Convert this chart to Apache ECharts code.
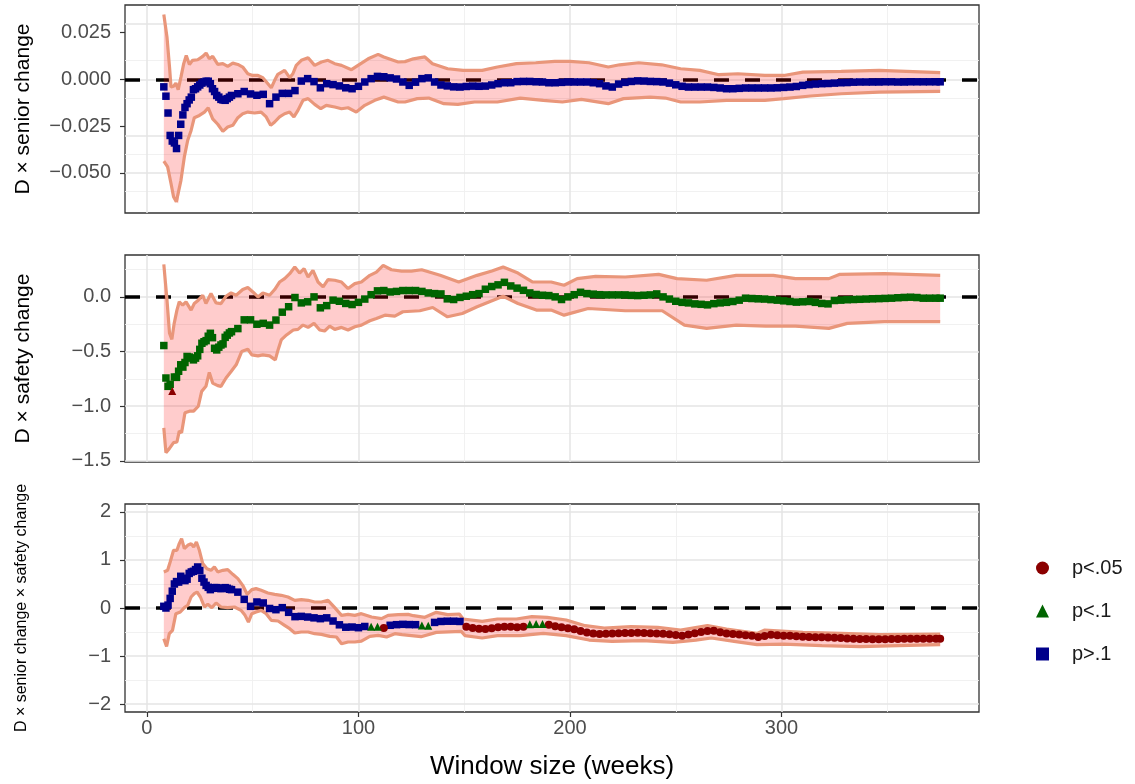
<!DOCTYPE html>
<html>
<head>
<meta charset="utf-8">
<script src="https://cdn.jsdelivr.net/npm/echarts@6/dist/echarts.min.js"></script>
<style>
html, body { margin: 0; padding: 0; background: #fff; }
#main { width: 1135px; height: 784px; }
</style>
</head>
<body>
<div id="main"></div>
<script>
// window sizes (weeks) at which the estimates are plotted
var weeks = [8,9,10,11,12,13,14,15,16,17,18,19,20,21,22,23,24,25,26,27,28,29,30,31,32,33,34,35,36,37,38,39,40,
	43,46,49,52,55,58,61,64,67,70,73,76,79,82,85,88,91,94,97,100,
	103,106,109,112,115,118,121,124,127,130,133,136,139,142,145,148,151,154,157,160,
	163,166,169,172,175,178,181,184,187,190,193,196,199,202,205,208,211,214,217,220,
	223,226,229,232,235,238,241,244,247,250,253,256,259,262,265,268,271,274,277,280,
	283,286,289,292,295,298,301,304,307,310,313,316,319,322,325,328,331,334,337,340,
	343,346,349,352,355,358,361,364,367,370,373,375];

// D x senior change
var seniorEst = [-0.004,-0.009,-0.018,-0.030,-0.033,-0.034,-0.037,-0.030,-0.024,-0.019,-0.015,-0.013,-0.011,-0.0095,-0.0055,-0.005,-0.004,-0.003,-0.002,-0.0014,-0.001,-0.001,-0.0023,-0.005,-0.0065,-0.0086,-0.0095,-0.0107,-0.011,-0.0112,-0.0103,-0.0095,-0.0086,
	-0.0077,-0.0065,-0.0078,-0.0085,-0.008,-0.013,-0.0095,-0.0075,-0.0075,-0.006,-0.0009,0.0004,-0.0012,-0.0045,-0.0023,-0.0028,-0.0035,-0.0045,-0.005,-0.0037,
	-0.0014,0.0004,0.0016,0.0014,0.0008,0.0002,-0.0014,-0.0032,-0.0015,0.0004,0.0008,-0.0014,-0.003,-0.0035,-0.004,-0.0041,-0.0038,-0.0036,-0.0037,-0.0036,
	-0.003,-0.0023,-0.0018,-0.0018,-0.0012,-0.0011,-0.0011,-0.0013,-0.0014,-0.0018,-0.0018,-0.0016,-0.0014,-0.0014,-0.0014,-0.0014,-0.0018,-0.0023,-0.0035,-0.0041,
	-0.0025,-0.0016,-0.0011,-0.0008,-0.0009,-0.0011,-0.0012,-0.0014,-0.002,-0.0029,-0.0037,-0.0041,-0.0041,-0.0041,-0.0041,-0.0043,-0.0046,-0.005,-0.005,-0.0048,
	-0.0046,-0.0046,-0.0046,-0.0046,-0.0046,-0.0045,-0.0043,-0.0041,-0.0038,-0.0032,-0.0028,-0.0025,-0.0023,-0.0022,-0.002,-0.0018,-0.0017,-0.0015,-0.0014,-0.0014,
	-0.0014,-0.0014,-0.0013,-0.0013,-0.0014,-0.0014,-0.0013,-0.0013,-0.0013,-0.0013,-0.0013,-0.0013];
var seniorHi = [[8,0.0347],[9.5,0.0226],[10.7,0.0066],[11.4,-0.0041],[12.6,-0.0037],[13.7,-0.002],[14.8,-0.0055],[16.1,0.0012],[17.4,0.0084],[18.6,0.0128],[20.1,0.008],[21.6,0.0102],[24,0.0105],[26.4,0.0123],[28,0.0141],[29.5,0.011],[31.1,0.0123],[33.5,0.008],[35.9,0.0084],[38.2,0.007],[40.6,0.0087],[43,0.008],[45.3,0.0066],[47.7,0.003],[50,0.0021],[52.5,0.0021],[54.8,0.0009],[57.2,-0.0023],[58.8,-0.0045],[60.4,-0.0005],[61.9,0.0027],[65.1,0.0048],[67.5,0.0009],[69,0.003],[70.6,0.0075],[73,0.0102],[76.2,0.0116],[79.3,0.0075],[82.5,0.0093],[85.6,0.0102],[88.8,0.0084],[92,0.0075],[96.7,0.0052],[99.8,0.0075],[104.6,0.011],[109.3,0.0134],[112,0.012],[118.8,0.0093],[122,0.0095],[126,0.011],[131.4,0.012],[135,0.0084],[142.2,0.0057],[149.5,0.0048],[158.5,0.0048],[165.7,0.0066],[174.7,0.0084],[183.8,0.0089],[192.8,0.0096],[200,0.0096],[209,0.0089],[218.1,0.0066],[223.5,0.0078],[232.5,0.0089],[243.3,0.0078],[252.3,0.0057],[261.4,0.0048],[270.4,0.0025],[279.4,0.003],[292.1,0.0021],[301.1,0.0021],[310.1,0.0039],[328.2,0.0043],[346.2,0.0048],[375,0.0036]];
var seniorLo = [[8,-0.0437],[9.8,-0.0468],[11.4,-0.0557],[12.6,-0.0628],[13.9,-0.0655],[14.8,-0.0664],[16.1,-0.054],[17.7,-0.0415],[19.3,-0.0326],[20.9,-0.0273],[22.4,-0.0205],[24.8,-0.0193],[27.2,-0.0175],[29,-0.0152],[31.1,-0.0211],[33.5,-0.024],[35.9,-0.0278],[38.2,-0.0255],[40.6,-0.0246],[43,-0.0205],[45.3,-0.0184],[47.7,-0.0175],[50.9,-0.018],[54,-0.0175],[56.4,-0.0201],[58.5,-0.0246],[60.4,-0.0228],[62.7,-0.0201],[65.1,-0.0184],[67.5,-0.0175],[69.5,-0.0201],[71.4,-0.0166],[73.8,-0.0112],[76.2,-0.0103],[79.3,-0.0134],[82.2,-0.0157],[84.8,-0.0139],[88.8,-0.0148],[92,-0.0157],[95.1,-0.0152],[99,-0.0175],[103,-0.0139],[107.7,-0.0112],[112,-0.0095],[118.8,-0.0121],[122,-0.0121],[127.8,-0.0103],[133.2,-0.01],[140.4,-0.013],[147,-0.0134],[154.9,-0.0121],[165.7,-0.0121],[176.5,-0.01],[187.4,-0.0112],[196.4,-0.0121],[205.4,-0.0107],[218.1,-0.013],[225.3,-0.0103],[237.9,-0.0095],[245.1,-0.01],[252.3,-0.0121],[261.4,-0.0121],[274,-0.0112],[292.1,-0.0112],[301.1,-0.0103],[313.7,-0.0089],[328.2,-0.0077],[346.2,-0.0068],[375,-0.0064]];

// D x safety change
var safetyEst = [-0.445,-0.742,-0.818,-0.80,-0.86,-0.733,-0.736,-0.68,-0.621,-0.642,-0.60,-0.545,-0.55,-0.56,-0.576,-0.56,-0.539,-0.48,-0.424,-0.41,-0.40,-0.36,-0.333,-0.373,-0.47,-0.485,-0.46,-0.44,-0.43,-0.37,-0.35,-0.33,-0.318,
	-0.29,-0.21,-0.21,-0.25,-0.242,-0.258,-0.212,-0.14,-0.09,-0.006,-0.055,-0.045,0.0,-0.10,-0.08,-0.03,-0.04,-0.06,-0.07,-0.05,
	-0.02,0.02,0.055,0.058,0.045,0.05,0.058,0.058,0.058,0.05,0.036,0.03,0.027,-0.018,-0.024,-0.005,0.006,0.02,0.03,0.07,
	0.095,0.11,0.133,0.10,0.08,0.06,0.036,0.022,0.015,0.012,0.0,-0.024,0.0,0.02,0.042,0.03,0.025,0.02,0.018,0.018,
	0.018,0.018,0.014,0.012,0.015,0.018,0.027,0.0,-0.02,-0.04,-0.05,-0.055,-0.064,-0.068,-0.073,-0.062,-0.055,-0.05,-0.042,-0.03,
	-0.012,-0.015,-0.018,-0.02,-0.025,-0.03,-0.036,-0.042,-0.048,-0.045,-0.042,-0.05,-0.06,-0.064,-0.033,-0.03,-0.026,-0.024,-0.022,-0.02,
	-0.018,-0.016,-0.014,-0.012,-0.008,-0.005,-0.003,-0.006,-0.012,-0.012,-0.012,-0.012];
var safetyFlagWeeks = [12];
var safetyHi = [[8,0.297],[9.5,-0.03],[10.7,-0.333],[11.8,-0.388],[12.9,-0.242],[14.2,-0.121],[15.3,-0.045],[16.9,-0.076],[18.5,-0.045],[20.9,-0.121],[22.4,-0.061],[24.3,-0.03],[26.4,0.015],[27.9,-0.061],[30.3,0.03],[32.7,-0.055],[35,-0.061],[37.4,0.006],[39.8,0.036],[42.2,0.015],[45.3,0.067],[47.7,0.085],[50.1,0.045],[52.5,0],[54.8,0.036],[58,0.015],[60.4,0.067],[62.7,0.136],[65.1,0.167],[67.5,0.212],[69.9,0.273],[72.2,0.218],[74.3,0.258],[76.2,0.182],[78.5,0.242],[80.9,0.136],[83.3,0.091],[85.6,0.158],[88.8,0.152],[92,0.136],[95.1,0.076],[98.3,0.121],[101.4,0.136],[105.4,0.197],[108.5,0.227],[111.7,0.288],[115.6,0.248],[120.4,0.236],[125,0.236],[129.9,0.248],[138.6,0.197],[147.4,0.136],[156.1,0.197],[163.1,0.236],[168.4,0.273],[175.4,0.218],[182.4,0.136],[191.1,0.136],[197.2,0.106],[203.4,0.167],[212.1,0.188],[226.1,0.182],[241.9,0.206],[250.6,0.167],[264.6,0.152],[278.6,0.197],[296.1,0.197],[306.6,0.167],[322.4,0.167],[327.6,0.206],[348.6,0.212],[375,0.197]];
var safetyLo = [[8,-1.197],[9,-1.424],[10.6,-1.388],[12.6,-1.333],[14.2,-1.327],[15.3,-1.227],[16.4,-1.242],[18,-1.06],[20.1,-1.045],[22.1,-1.045],[24.3,-1.0],[25.9,-0.864],[27.9,-0.818],[29.5,-0.691],[31.1,-0.788],[33.5,-0.812],[35,-0.818],[37.4,-0.742],[39.8,-0.682],[42.2,-0.621],[44.8,-0.5],[47.7,-0.479],[49.6,-0.53],[52.5,-0.539],[54.8,-0.53],[58,-0.539],[60.7,-0.576],[62,-0.485],[63.5,-0.394],[66,-0.348],[69.2,-0.303],[71.4,-0.297],[73.8,-0.258],[76.2,-0.279],[79,-0.242],[81.7,-0.303],[84,-0.312],[86.4,-0.267],[88.8,-0.297],[92,-0.279],[95.1,-0.303],[98.3,-0.273],[101.4,-0.258],[105.4,-0.218],[108.5,-0.197],[112.5,-0.167],[117.2,-0.176],[121,-0.136],[129,-0.127],[135.1,-0.097],[142.1,-0.182],[149.1,-0.152],[156.1,-0.091],[168.4,0.006],[175.4,-0.061],[184.1,-0.121],[191.1,-0.121],[197.2,-0.167],[208.6,-0.106],[226.1,-0.127],[243.6,-0.127],[254.1,-0.258],[264.6,-0.288],[278.6,-0.258],[292.6,-0.267],[306.6,-0.267],[322.4,-0.288],[331.1,-0.242],[348.6,-0.227],[375,-0.227]];

// D x senior change x safety change
var interEst = [0.035,0.0,0.06,0.2,0.35,0.5,0.55,0.54,0.66,0.62,0.57,0.60,0.72,0.75,0.764,0.80,0.854,0.78,0.62,0.54,0.47,0.43,0.382,0.41,0.424,0.424,0.41,0.403,0.41,0.424,0.41,0.39,0.382,
	0.33,0.18,0.035,0.125,0.105,-0.01,-0.035,0.007,-0.09,-0.18,-0.174,-0.188,-0.205,-0.222,-0.205,-0.271,-0.35,-0.40,-0.396,-0.41,
	-0.385,-0.39,-0.39,-0.417,-0.36,-0.347,-0.34,-0.345,-0.347,-0.365,-0.368,-0.30,-0.28,-0.275,-0.275,-0.28,-0.39,-0.417,-0.43,-0.438,
	-0.42,-0.403,-0.39,-0.389,-0.40,-0.39,-0.34,-0.335,-0.335,-0.347,-0.38,-0.40,-0.42,-0.44,-0.48,-0.51,-0.53,-0.542,-0.535,-0.532,
	-0.528,-0.52,-0.52,-0.515,-0.522,-0.528,-0.53,-0.538,-0.545,-0.56,-0.576,-0.55,-0.528,-0.5,-0.48,-0.472,-0.507,-0.53,-0.542,-0.55,
	-0.565,-0.58,-0.605,-0.585,-0.556,-0.565,-0.576,-0.58,-0.59,-0.597,-0.604,-0.608,-0.611,-0.615,-0.618,-0.625,-0.635,-0.64,-0.646,-0.646,
	-0.648,-0.648,-0.65,-0.646,-0.645,-0.642,-0.642,-0.642,-0.64,-0.64,-0.64,-0.638];
// [from week, to week, significance]
var interSigRuns = [[8,103,'p>.1'],[106,109,'p<.1'],[112,112,'p<.05'],[115,127,'p>.1'],[130,133,'p<.1'],
	[136,148,'p>.1'],[151,178,'p<.05'],[181,187,'p<.1'],[190,375,'p<.05']];
var interHi = [[8,0.75],[9.8,0.785],[11,0.958],[12.6,1.201],[14.2,1.201],[15.3,1.34],[16.4,1.444],[17.7,1.236],[19.3,1.306],[20.9,1.34],[22.1,1.271],[23.4,1.375],[24.8,1.201],[26.4,0.924],[28.4,0.819],[30.3,0.785],[31.9,0.854],[33.5,0.75],[35.9,0.785],[38.2,0.799],[40.6,0.701],[43,0.611],[45.3,0.472],[47.4,0.285],[49.6,0.382],[51.6,0.403],[54,0.368],[57.2,0.313],[60.4,0.285],[63.5,0.264],[66.7,0.229],[69.9,0.16],[73,0.174],[76.2,0.16],[79.3,0.125],[82.5,0.125],[85.6,0.16],[88.8,0.007],[92,-0.153],[95.1,-0.132],[98.3,-0.153],[101.4,-0.118],[106.2,-0.188],[110.9,-0.222],[114,-0.153],[118.8,-0.139],[123.5,-0.132],[126,-0.16],[131.4,-0.194],[136.8,-0.09],[142.2,-0.139],[147.7,-0.125],[149.5,-0.229],[158.5,-0.278],[165.7,-0.229],[174.7,-0.229],[182,-0.181],[189.2,-0.194],[198.2,-0.25],[207.2,-0.368],[216.2,-0.417],[228.9,-0.389],[241.5,-0.403],[252.3,-0.458],[265,-0.368],[274,-0.438],[288.4,-0.528],[292.1,-0.458],[310.1,-0.507],[328.2,-0.528],[346.2,-0.556],[375,-0.542]];
var interLo = [[8,-0.639],[9.3,-0.799],[10.6,-0.535],[12.1,-0.465],[13.7,-0.118],[15.8,-0.083],[17.7,0.007],[19.3,0.056],[20.9,0.229],[22.4,0.299],[23.7,0.333],[25.3,0.229],[27.2,0.021],[28.8,0.076],[30.7,0.007],[32.7,0.104],[35,0.021],[38.2,0.007],[41.4,0.021],[44.5,-0.049],[46.4,-0.153],[48,-0.292],[49.6,-0.118],[51.6,-0.083],[54,-0.049],[56.4,-0.118],[58.8,-0.257],[62,-0.271],[65.1,-0.361],[67.5,-0.431],[69.9,-0.521],[73,-0.5],[76.2,-0.5],[79.3,-0.535],[82.5,-0.549],[86.4,-0.59],[89.6,-0.604],[92,-0.743],[95.1,-0.708],[98.3,-0.708],[101.4,-0.688],[105.4,-0.59],[109.3,-0.569],[113.3,-0.604],[117.2,-0.535],[120.6,-0.556],[129.6,-0.597],[136.8,-0.507],[148.6,-0.486],[150.4,-0.576],[158.5,-0.625],[165.7,-0.576],[176.5,-0.576],[187.4,-0.528],[198.2,-0.576],[209,-0.667],[219.9,-0.694],[234.3,-0.681],[248.7,-0.715],[259.5,-0.667],[266.8,-0.625],[277.6,-0.694],[288.4,-0.764],[301.1,-0.75],[319.1,-0.785],[337.2,-0.806],[355.2,-0.785],[375,-0.764]];

// ticks and grid lines
var xTicks = [0, 100, 200, 300];
var xMinor = [50, 150, 250, 350];
var seniorTicks = [-0.05, -0.025, 0, 0.025];
var seniorMinor = [-0.0625, -0.0375, -0.0125, 0.0125, 0.0375];
var safetyTicks = [-1.5, -1, -0.5, 0];
var safetyMinor = [-1.25, -0.75, -0.25, 0.25];
var interTicks = [-2, -1, 0, 1, 2];
var interMinor = [-1.5, -0.5, 0.5, 1.5];

var sigLabels = ['p<.05', 'p<.1', 'p>.1'];

var FONT = 'Liberation Sans, Arial, Helvetica, sans-serif';
var RED = '#8B0000', GREEN = '#006400', BLUE = '#00008B';
var sigStyle = {
	'p<.05': { color: RED, symbol: 'circle', size: 8 },
	'p<.1': { color: GREEN, symbol: 'triangle', size: 8 },
	'p>.1': { color: BLUE, symbol: 'rect', size: 7.5 }
};

function minusFmt(dec) {
	return function(v) {
		return Number(v).toFixed(dec).replace('-', '\u2212');
	};
}

function sigOf(w) {
	for (var i = 0; i < interSigRuns.length; i++) {
		if (w >= interSigRuns[i][0] && w <= interSigRuns[i][1]) return interSigRuns[i][2];
	}
	return 'p>.1';
}

var panels = [
	{ top: 5, height: 208, min: -0.0715, max: 0.0398, ticks: seniorTicks, minor: seniorMinor, dec: 3,
		name: 'D \u00d7 senior change', nameSize: 21, nameGap: 91, hi: seniorHi, lo: seniorLo },
	{ top: 255, height: 207, min: -1.51, max: 0.383, ticks: safetyTicks, minor: safetyMinor, dec: 1,
		name: 'D \u00d7 safety change', nameSize: 21, nameGap: 91, hi: safetyHi, lo: safetyLo },
	{ top: 504, height: 208, min: -2.165, max: 2.165, ticks: interTicks, minor: interMinor, dec: 0,
		name: 'D \u00d7 senior change \u00d7 safety change', nameSize: 16, nameGap: 95, hi: interHi, lo: interLo }
];

var grids = [], xAxes = [], yAxes = [], series = [];

panels.forEach(function(p, i) {
	var last = i === panels.length - 1;
	grids.push({
		left: 125, top: p.top, width: 854, height: p.height,
		show: true, borderColor: '#333333', borderWidth: 1.3, backgroundColor: 'transparent'
	});
	xAxes.push({
		type: 'value', gridIndex: i, min: -10.35, max: 393.35, position: 'bottom',
		axisLine: { show: false, onZero: false },
		splitLine: { show: false },
		axisTick: { show: last, customValues: xTicks, length: 5, lineStyle: { color: '#333', width: 1.2 } },
		axisLabel: { show: last, customValues: xTicks, color: '#4d4d4d', fontSize: 20, fontFamily: FONT, margin: 6 },
		name: last ? 'Window size (weeks)' : '',
		nameLocation: 'middle', nameGap: 42,
		nameTextStyle: { fontSize: 26, color: '#000', fontFamily: FONT }
	});
	yAxes.push({
		type: 'value', gridIndex: i, min: p.min, max: p.max, position: 'left',
		axisLine: { show: false, onZero: false },
		splitLine: { show: false },
		axisTick: { show: true, customValues: p.ticks, length: 5, lineStyle: { color: '#333', width: 1.2 } },
		axisLabel: { customValues: p.ticks, formatter: minusFmt(p.dec), color: '#4d4d4d', fontSize: 20, fontFamily: FONT, margin: 14 },
		name: p.name, nameLocation: 'middle', nameRotate: 90, nameGap: p.nameGap,
		nameTextStyle: { fontSize: p.nameSize, color: '#000', fontFamily: FONT }
	});

	// grid lines
	var gl = [];
	xMinor.forEach(function(v) { gl.push({ xAxis: v, lineStyle: { color: '#efefef', width: 0.9, type: 'solid' } }); });
	p.minor.forEach(function(v) { gl.push({ yAxis: v, lineStyle: { color: '#efefef', width: 0.9, type: 'solid' } }); });
	xTicks.forEach(function(v) { gl.push({ xAxis: v, lineStyle: { color: '#e4e4e4', width: 1.5, type: 'solid' } }); });
	p.ticks.forEach(function(v) { gl.push({ yAxis: v, lineStyle: { color: '#e4e4e4', width: 1.5, type: 'solid' } }); });
	series.push({
		type: 'line', name: 'grid' + i, xAxisIndex: i, yAxisIndex: i, data: [], silent: true, z: 1,
		markLine: { z: 1, silent: true, symbol: 'none', animation: false, label: { show: false },
			emphasis: { disabled: true }, data: gl }
	});
	// zero reference line
	series.push({
		type: 'line', name: 'zero' + i, xAxisIndex: i, yAxisIndex: i, data: [], silent: true, z: 2,
		markLine: { z: 2, silent: true, symbol: 'none', animation: false, label: { show: false },
			emphasis: { disabled: true },
			data: [{ yAxis: 0, lineStyle: { color: '#000', width: 3.5, type: [15, 16] } }] }
	});
	// confidence ribbon
	series.push({
		type: 'custom', name: 'ribbon' + i, xAxisIndex: i, yAxisIndex: i, z: 3, silent: true,
		data: [[0, 0]],
		renderItem: (function(hi, lo) {
			return function(params, api) {
				var pts = hi.map(function(d) { return api.coord(d); });
				lo.slice().reverse().forEach(function(d) { pts.push(api.coord(d)); });
				return { type: 'polygon', shape: { points: pts }, style: { fill: 'rgba(255,0,0,0.2)' } };
			};
		})(p.hi, p.lo)
	});
	[p.hi, p.lo].forEach(function(b, k) {
		series.push({
			type: 'line', name: 'bound' + i + k, xAxisIndex: i, yAxisIndex: i, data: b, z: 4,
			symbol: 'none', silent: true, lineStyle: { color: '#E9967A', width: 3.2 }
		});
	});
});

// points: panel 1
series.push({
	type: 'scatter', name: 'senior', xAxisIndex: 0, yAxisIndex: 0, z: 5, silent: true,
	symbol: 'rect', symbolSize: 7.5, itemStyle: { color: BLUE, opacity: 1 },
	data: weeks.map(function(w, i) { return [w, seniorEst[i]]; })
});
// points: panel 2
series.push({
	type: 'scatter', name: 'safety', xAxisIndex: 1, yAxisIndex: 1, z: 5, silent: true,
	symbol: 'rect', symbolSize: 7.5, itemStyle: { color: GREEN, opacity: 1 },
	data: weeks.map(function(w, i) { return [w, safetyEst[i]]; })
		.filter(function(d) { return safetyFlagWeeks.indexOf(d[0]) < 0; })
});
series.push({
	type: 'scatter', name: 'safetyFlag', xAxisIndex: 1, yAxisIndex: 1, z: 6, silent: true,
	symbol: 'triangle', symbolSize: 8, itemStyle: { color: RED, opacity: 1 },
	data: weeks.map(function(w, i) { return [w, safetyEst[i]]; })
		.filter(function(d) { return safetyFlagWeeks.indexOf(d[0]) >= 0; })
});
// points: panel 3, by significance
['p>.1', 'p<.05', 'p<.1'].forEach(function(s, k) {
	var st = sigStyle[s];
	series.push({
		type: 'scatter', name: s, xAxisIndex: 2, yAxisIndex: 2, z: 5 + k, silent: true,
		symbol: st.symbol, symbolSize: st.size, itemStyle: { color: st.color, opacity: 1 },
		data: weeks.map(function(w, i) { return [w, interEst[i]]; })
			.filter(function(d) { return sigOf(d[0]) === s; })
	});
});

var myChart = echarts.init(document.getElementById('main'), null, { renderer: 'canvas' });
myChart.setOption({
	animation: false,
	backgroundColor: '#ffffff',
	textStyle: { fontFamily: FONT },
	grid: grids,
	xAxis: xAxes,
	yAxis: yAxes,
	legend: {
		orient: 'vertical', left: 1031, top: 553, itemGap: 23,
		itemWidth: 13, itemHeight: 13, selectedMode: false,
		formatter: function(name) { return '{gap|}' + name; },
		textStyle: { fontSize: 20, color: '#1a1a1a', fontFamily: FONT,
			rich: { gap: { width: 18 } } },
		data: sigLabels.map(function(s) {
			return { name: s, icon: sigStyle[s].symbol, itemStyle: { color: sigStyle[s].color, opacity: 1 } };
		})
	},
	series: series
});
</script>
</body>
</html>
